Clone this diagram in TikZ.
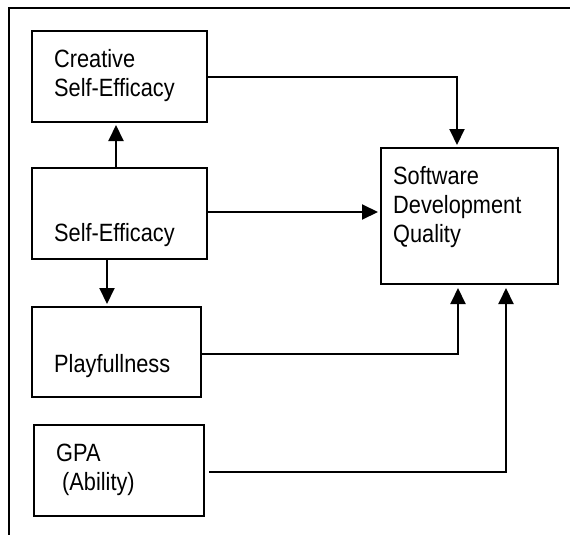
\documentclass[tikz,border=0pt]{standalone}
\usepackage{fontspec}
\setmainfont{Liberation Sans}[FakeStretch=0.87]
\usetikzlibrary{arrows.meta,calc}
\tikzset{
  box/.style={draw,line width=2pt,inner sep=0pt,minimum width=#1},
  lbl/.style={anchor=base west,inner sep=0pt,font=\fontsize{25}{29}\selectfont},
  arr/.style={line width=2pt,-{Triangle[width=15pt,length=16pt]}},
  ln/.style={line width=2pt},
}
\begin{document}
\begin{tikzpicture}[x=1pt,y=-1pt]
\useasboundingbox (0,0) rectangle (570,535);
% frame
\coordinate (ftr) at (570,8);
\coordinate (ftl) at (9,8);
\coordinate (fbl) at (9,535);
\draw[ln] (ftr) -- (ftl) -- (fbl);
% boxes
\node[box=175pt,minimum height=91pt] (cse) at (119.5,76.5) {};
\node[box=175pt,minimum height=91pt] (se) at (119.5,213.5) {};
\node[box=169pt,minimum height=90pt] (ple) at (116.5,352) {};
\node[box=170pt,minimum height=91pt] (gpa) at (119,470.5) {};
\node[box=177pt,minimum height=136pt] (sdq) at (469.5,216) {};
% texts
\node[lbl] (t1) at (54,67) {Creative};
\node[lbl] (t2) at (54,96) {Self-Efficacy};
\node[lbl] (t3) at (54,241) {Self-Efficacy};
\node[lbl] (t4) at (54,372) {Playfullness};
\node[lbl] (t5) at (56,461) {GPA};
\node[lbl] (t6) at (56,490) {\ (Ability)};
\node[lbl] (t7) at (393,184) {Software};
\node[lbl] (t8) at (393,213) {Development};
\node[lbl] (t9) at (393,242) {Quality};
% connectors
\draw[arr,shorten >=2pt] ([xshift=-3.5pt]se.north) -- ([xshift=-3.5pt]cse.south);
\draw[arr,shorten >=2pt] ([xshift=-12.5pt]se.south) -- ([xshift=-12.5pt]se.south |- ple.north);
\draw[arr,shorten >=2pt] (cse.east) -| ([xshift=-12.5pt]sdq.north);
\draw[arr,shorten >=2pt] ([yshift=1.5pt]se.east) -- ([yshift=1.5pt]se.east -| sdq.west);
\draw[arr,shorten >=3pt] ([yshift=-2pt]ple.east) -| ([xshift=-11.5pt]sdq.south);
\draw[arr,shorten >=3pt] ([xshift=4pt,yshift=-1.5pt]gpa.east) -| ([xshift=36.5pt]sdq.south);
\end{tikzpicture}
\end{document}
